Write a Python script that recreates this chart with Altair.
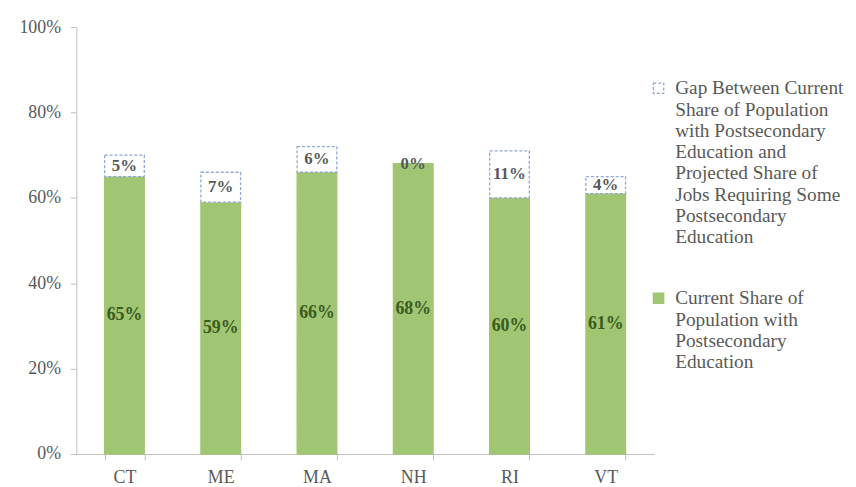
import altair as alt
import pandas as pd

states = ["CT", "ME", "MA", "NH", "RI", "VT"]
current = [65, 59, 66, 68, 60, 61]
gap = [5, 7, 6, 0, 11, 4]

gap_name = ("Gap Between Current|Share of Population|with Postsecondary|Education and|"
            "Projected Share of|Jobs Requiring Some|Postsecondary|Education")
cur_name = "Current Share of|Population with|Postsecondary|Education"
series_order = [gap_name, cur_name]

rows = []
for s, c, g in zip(states, current, gap):
    rows.append({"state": s, "series": cur_name, "start": 0, "end": c / 100,
                 "mid": c / 200, "label": f"{c}%", "val": c})
    rows.append({"state": s, "series": gap_name, "start": c / 100, "end": (c + g) / 100,
                 "mid": (c + g / 2) / 100, "label": f"{g}%", "val": g})
df = pd.DataFrame(rows)

FONT = "Liberation Serif"
GREEN = "#A0C674"
DASH_BLUE = "#8FA8D6"
GRAY = "#595959"
AXIS_GRAY = "#BFBFBF"

legend = alt.Legend(
    title=None, orient="none", legendX=578, legendY=43,
    labelExpr="split(datum.label, '|')",
    labelFont=FONT, labelFontSize=19.5, labelColor=GRAY, labelLimit=400,
    labelBaseline="top", labelOffset=7,
    symbolType="M-1,0.72H1V2.72H-1Z", symbolSize=110, symbolStrokeWidth=1.3,
    rowPadding=33,
)

x_enc = alt.X("state:N", sort=states,
              scale=alt.Scale(paddingInner=0.588, paddingOuter=0.294),
              axis=alt.Axis(title=None, labelAngle=0, tickBand="extent",
                            domainColor=AXIS_GRAY, tickColor=AXIS_GRAY, tickSize=6,
                            labelColor=GRAY, labelFont=FONT, labelFontSize=18,
                            labelPadding=9))

y_scale = alt.Scale(domain=[0, 1])

base = alt.Chart(df)

bars = base.transform_filter("datum.val > 0").mark_bar().encode(
    x=x_enc,
    y=alt.Y("start:Q", scale=y_scale,
            axis=alt.Axis(title=None, format="%", values=[0, 0.2, 0.4, 0.6, 0.8, 1.0],
                          grid=False, domainColor=AXIS_GRAY, tickColor=AXIS_GRAY,
                          tickSize=6, labelColor=GRAY, labelFont=FONT,
                          labelFontSize=18, labelPadding=10)),
    y2="end:Q",
    fill=alt.Fill("series:N", sort=series_order,
                  scale=alt.Scale(domain=series_order, range=["#FFFFFF", GREEN]),
                  legend=legend),
    stroke=alt.Stroke("series:N", sort=series_order,
                      scale=alt.Scale(domain=series_order, range=[DASH_BLUE, GREEN]),
                      legend=legend),
    strokeDash=alt.StrokeDash("series:N", sort=series_order,
                              scale=alt.Scale(domain=series_order, range=[[3, 2], [1, 0]]),
                              legend=legend),
    strokeWidth=alt.value(1.3),
)

cur_labels = base.transform_filter(alt.datum.series == cur_name).mark_text(
    font=FONT, fontSize=18, fontWeight="bold", color="#3B5B1F"
).encode(x=alt.X("state:N", sort=states), y=alt.Y("mid:Q", scale=y_scale), text="label:N")

gap_labels = base.transform_filter(alt.datum.series == gap_name).mark_text(
    font=FONT, fontSize=17, fontWeight="bold", color=GRAY
).encode(x=alt.X("state:N", sort=states), y=alt.Y("mid:Q", scale=y_scale), text="label:N")

chart = alt.layer(bars, cur_labels, gap_labels).properties(
    width=583, height=431,
    autosize=alt.AutoSizeParams(type="none"),
    padding={"left": 69, "top": 17, "right": 196, "bottom": 30},
).configure_view(stroke=None)

chart.save("out.html", embed_options={"renderer": "svg", "actions": False})
